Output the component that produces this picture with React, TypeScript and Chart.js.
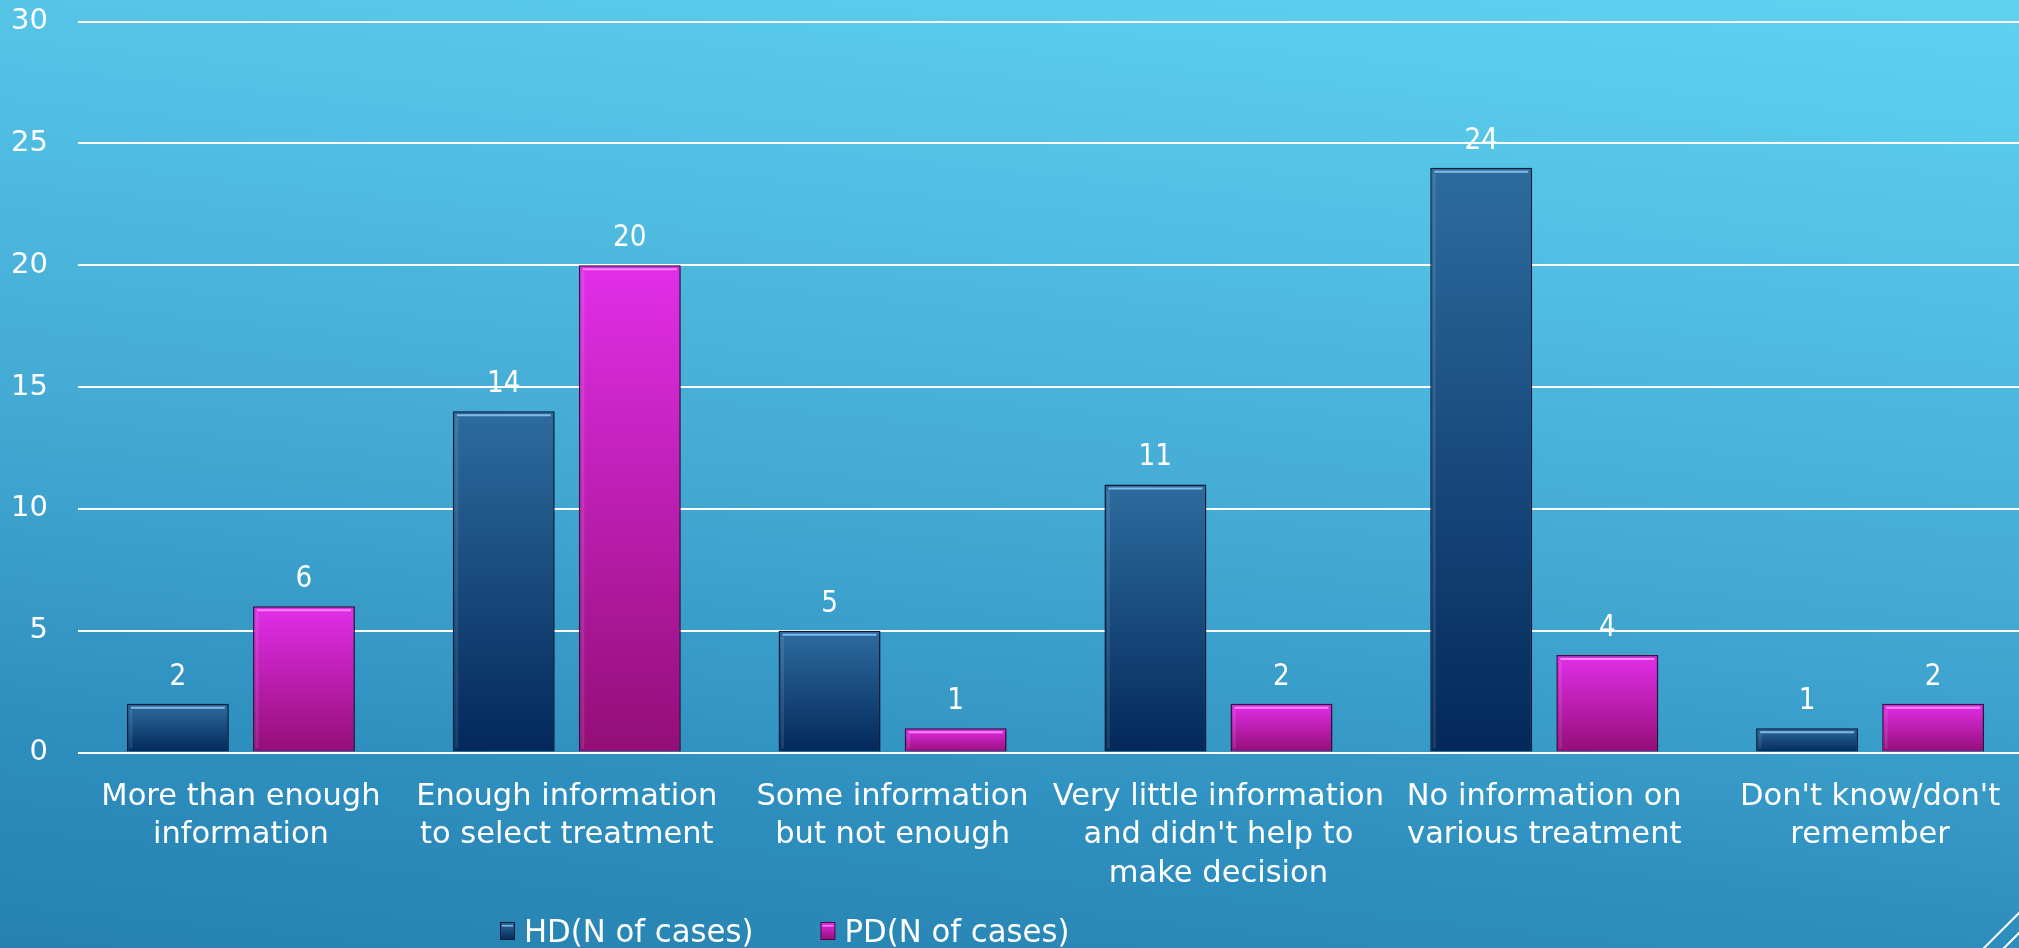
import { useEffect, useRef } from 'react';
import { Chart, registerables } from 'chart.js';

Chart.register(...registerables);

// Survey answers about treatment information, by dialysis type
const categories: string[][] = [
  ['More than enough', 'information'],
  ['Enough information', 'to select treatment'],
  ['Some information', 'but not enough'],
  ['Very little information', "and didn't help to", 'make decision'],
  ['No information on', 'various treatment'],
  ["Don't know/don't", 'remember'],
];
const hdCases = [2, 14, 5, 11, 24, 1];
const pdCases = [6, 20, 1, 2, 4, 2];
const seriesLabels = ['HD(N of cases)', 'PD(N of cases)'];
const yMin = 0;
const yMax = 30;
const yStep = 5;

const FONT = '"DejaVu Sans", "Liberation Sans", sans-serif';

const palette: Record<string, { top: string; bottom: string; border: string; bevel: string }> = {
  hd: { top: '#2e6c9e', bottom: '#03285a', border: '#0b1d38', bevel: 'rgba(140,195,245,0.9)' },
  pd: { top: '#e22ee9', bottom: '#930e76', border: '#4b0842', bevel: 'rgba(255,150,250,0.85)' },
};
const seriesKeys = ['hd', 'pd'];

function verticalGradient(ctx: CanvasRenderingContext2D, y0: number, y1: number, top: string, bottom: string) {
  const g = ctx.createLinearGradient(0, y0, 0, Math.max(y1, y0 + 1));
  g.addColorStop(0, top);
  g.addColorStop(1, bottom);
  return g;
}

function barFill(key: string) {
  return (c: any) => {
    const p = palette[key];
    const y = c.chart.scales?.y;
    if (c.type !== 'data' || !y) return p.top;
    const top = y.getPixelForValue(c.raw);
    const base = y.getPixelForValue(0);
    if (!Number.isFinite(top) || !Number.isFinite(base)) return p.top;
    return verticalGradient(c.chart.ctx, top, base, p.top, p.bottom);
  };
}

// Text drawn slightly condensed, like the slide's typeface
function condensedText(ctx: CanvasRenderingContext2D, text: string, x: number, y: number, squeeze: number) {
  ctx.save();
  ctx.translate(x, y);
  ctx.scale(squeeze, 1);
  ctx.fillText(text, 0, 0);
  ctx.restore();
}

// Shadow, bevel highlight and value labels on every bar
const barDecor = {
  id: 'barDecor',
  beforeDatasetsDraw(chart: any) {
    const ctx = chart.ctx;
    ctx.save();
    ctx.shadowColor = 'rgba(0, 25, 50, 0.35)';
    ctx.shadowBlur = 5;
    ctx.shadowOffsetX = 3;
    ctx.shadowOffsetY = 2;
  },
  afterDatasetsDraw(chart: any) {
    const ctx = chart.ctx;
    ctx.restore();
    chart.data.datasets.forEach((ds: any, i: number) => {
      const meta = chart.getDatasetMeta(i);
      const p = palette[seriesKeys[i]];
      meta.data.forEach((el: any, j: number) => {
        const { x, y, base, width } = el.getProps(['x', 'y', 'base', 'width'], true);
        const l = x - width / 2;
        const r = x + width / 2;
        ctx.save();
        ctx.strokeStyle = p.bevel;
        ctx.lineWidth = 2;
        ctx.beginPath();
        ctx.moveTo(l + 4, y + 4);
        ctx.lineTo(r - 4, y + 4);
        ctx.stroke();
        ctx.strokeStyle = 'rgba(255,255,255,0.10)';
        ctx.lineWidth = 3;
        ctx.beginPath();
        ctx.moveTo(l + 4, y + 6);
        ctx.lineTo(l + 4, base - 3);
        ctx.stroke();
        ctx.restore();

        ctx.save();
        ctx.fillStyle = '#ffffff';
        ctx.font = `31px ${FONT}`;
        ctx.textAlign = 'center';
        ctx.textBaseline = 'alphabetic';
        condensedText(ctx, String(ds.data[j]), x, y - 19, 0.85);
        ctx.restore();
      });
    });
  },
};

// Legend row and the corner stripes
const legendAndCorner = {
  id: 'legendAndCorner',
  afterDraw(chart: any) {
    const ctx: CanvasRenderingContext2D = chart.ctx;
    const squeeze = 0.96;
    ctx.save();
    ctx.font = `32px ${FONT}`;
    ctx.textBaseline = 'alphabetic';
    ctx.textAlign = 'left';
    let x = 500;
    const iconTop = 922;
    const iconW = 15;
    const iconH = 18;
    seriesLabels.forEach((label, i) => {
      const p = palette[seriesKeys[i]];
      ctx.fillStyle = p.border;
      ctx.fillRect(x, iconTop, iconW, iconH);
      ctx.fillStyle = verticalGradient(ctx, iconTop, iconTop + iconH, p.top, p.bottom);
      ctx.fillRect(x + 1, iconTop + 1, iconW - 2, iconH - 2);
      ctx.fillStyle = p.bevel;
      ctx.fillRect(x + 2, iconTop + 3, iconW - 4, 1.5);
      ctx.fillStyle = '#ffffff';
      const tx = x + iconW + 9;
      condensedText(ctx, label, tx, 942, squeeze);
      x = tx + ctx.measureText(label).width * squeeze + 67;
    });

    ctx.strokeStyle = '#ffffff';
    ctx.lineWidth = 2;
    ctx.beginPath();
    ctx.moveTo(1983, 949);
    ctx.lineTo(2040, 892);
    ctx.moveTo(2003, 949);
    ctx.lineTo(2040, 912);
    ctx.stroke();
    ctx.restore();
  },
};

export default function App() {
  const ref = useRef<HTMLCanvasElement>(null);

  useEffect(() => {
    const canvas = ref.current;
    if (!canvas) return;
    const chart = new Chart(canvas, {
      type: 'bar',
      data: {
        labels: categories,
        datasets: [
          {
            label: seriesLabels[0],
            data: hdCases,
            backgroundColor: barFill('hd'),
            borderColor: palette.hd.border,
            borderWidth: 1.5,
          },
          {
            label: seriesLabels[1],
            data: pdCases,
            backgroundColor: barFill('pd'),
            borderColor: palette.pd.border,
            borderWidth: 1.5,
          },
        ],
      },
      options: {
        responsive: false,
        maintainAspectRatio: false,
        devicePixelRatio: 1,
        animation: false,
        layout: { padding: { top: 21.5, left: 0, right: 0, bottom: 0 } },
        datasets: {
          bar: { categoryPercentage: 0.774, barPercentage: 0.808 },
        },
        plugins: {
          legend: { display: false },
          tooltip: { enabled: false },
        },
        scales: {
          x: {
            grid: { display: false },
            border: { display: false },
            ticks: {
              color: '#ffffff',
              font: { family: FONT, size: 30.5, lineHeight: 1.262 },
              padding: 17,
              maxRotation: 0,
              autoSkip: false,
            },
            afterFit(scale: any) {
              scale.height = 195.5;
            },
          },
          y: {
            min: yMin,
            max: yMax,
            grid: { color: '#ffffff', lineWidth: 2, drawTicks: false },
            border: { display: false },
            ticks: {
              stepSize: yStep,
              color: '#ffffff',
              font: { family: FONT, size: 29 },
              padding: 30,
            },
            afterFit(scale: any) {
              scale.width = 78;
              scale.paddingTop = 0;
              scale.paddingBottom = 0;
            },
          },
        },
      },
      plugins: [barDecor, legendAndCorner],
    });
    return () => chart.destroy();
  }, []);

  return (
    <div
      style={{
        position: 'fixed',
        left: 0,
        top: 0,
        width: 2019,
        height: 948,
        overflow: 'hidden',
        background:
          'linear-gradient(186deg, #5ed3f0 0%, #52c0e4 25%, #42a8d2 55%, #2e8fbe 80%, #2681b0 100%)',
      }}
    >
      <canvas ref={ref} width={2033} height={948} style={{ display: 'block', width: 2033, height: 948 }} />
    </div>
  );
}
